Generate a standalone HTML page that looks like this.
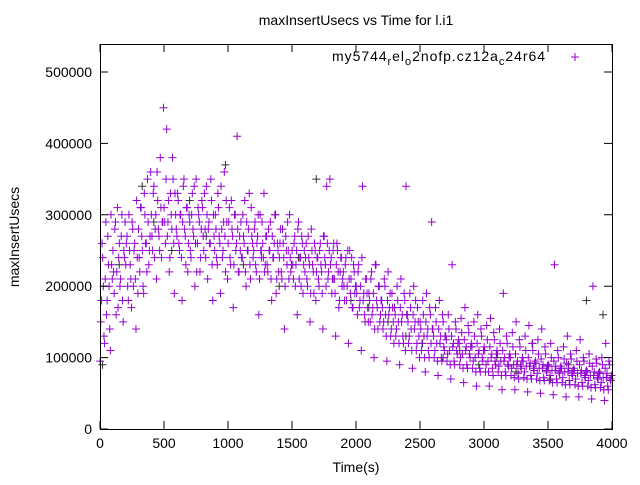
<!DOCTYPE html>
<html><head><meta charset="utf-8"><style>
body{margin:0;background:#fff}
svg text{font-family:"Liberation Sans",sans-serif;fill:#000}
</style></head><body>
<svg id="chart" width="640" height="480" viewBox="0 0 640 480" xmlns="http://www.w3.org/2000/svg">
<rect width="640" height="480" fill="#fff"/>
<text x="356" y="25" font-size="14" text-anchor="middle">maxInsertUsecs vs Time for l.i1</text>
<g id="marks"></g>
<rect x="100.5" y="44.5" width="512" height="385" fill="none" stroke="#000" stroke-width="1"/>
<g id="axes"></g>
<text x="356" y="472" font-size="14" text-anchor="middle">Time(s)</text>
<text transform="translate(19,237) rotate(-90)" font-size="14" text-anchor="middle">maxInsertUsecs</text>
<text x="332" y="61" font-size="14" textLength="213" lengthAdjust="spacing">my5744<tspan font-size="11" dy="4">r</tspan><tspan dy="-4">el</tspan><tspan font-size="11" dy="4">o</tspan><tspan dy="-4">2nofp.cz12a</tspan><tspan font-size="11" dy="4">c</tspan><tspan dy="-4">24r64</tspan></text>
<path d="M571 57h8M575 53v8" stroke="#9400d3" stroke-width="1"/>
</svg>
<script>
const yTicks=[0,100000,200000,300000,400000,500000];
const xTicks=[0,500,1000,1500,2000,2500,3000,3500,4000];
const timeStep=10;
const purpleK=[95,180,240,130,210,160,270,200,110,230,250,190,290,220,170,260,210,300,150,240,230,270,180,250,210,290,200,260,140,240,280,220,310,250,190,300,260,350,230,270,300,250,340,280,210,320,270,380,240,290,310,260,420,290,220,330,280,350,190,300,270,320,250,300,180,340,280,230,310,260,290,240,330,270,200,350,260,300,220,280,310,250,280,340,210,290,260,320,180,270,300,240,330,270,190,280,250,360,220,290,260,310,230,280,170,300,250,410,220,270,290,240,270,320,200,250,280,230,310,260,250,290,220,270,160,300,240,260,330,230,270,220,250,290,180,240,260,300,210,250,240,280,210,260,140,270,230,250,300,220,250,210,270,230,160,290,240,200,260,230,220,260,200,240,150,280,230,190,250,220,240,200,260,220,140,270,230,340,210,250,230,190,250,210,130,260,220,180,240,200,220,180,240,200,120,250,210,170,230,190,200,160,230,180,110,340,190,150,210,170,190,150,220,170,100,230,180,140,200,160,180,140,210,160,95,220,170,130,190,150,170,130,200,150,90,210,160,120,180,340,160,120,190,140,85,200,150,110,170,130,150,110,180,130,80,190,140,100,160,290,140,100,170,120,75,180,130,95,150,110,130,95,160,110,70,230,120,90,140,105,125,90,155,105,65,170,115,85,135,100,120,85,150,100,60,160,110,80,130,95,115,80,145,95,60,155,105,75,125,90,110,80,140,95,55,190,100,75,120,88,105,75,135,90,55,150,95,70,115,85,100,72,130,88,52,145,92,70,110,82,95,70,125,85,50,140,90,68,105,80,90,68,120,82,48,230,88,65,100,78,88,65,115,80,45,130,85,62,98,75,85,62,110,78,45,125,82,60,95,72,82,60,105,75,42,200,80,58,92,70,80,58,100,72,40,120,78,55,90,68];
const purple2K=[150,260,200,120,290,180,230,140,300,210,220,280,160,310,240,200,270,180,250,290,260,200,300,230,170,280,250,210,320,190,240,310,270,200,330,260,220,290,250,360,270,330,240,300,360,280,250,310,290,450,290,350,270,320,240,300,380,260,330,280,330,260,300,240,290,350,270,310,220,300,250,300,280,340,260,220,310,290,240,320,270,330,240,300,280,260,350,230,300,250,280,230,310,260,340,240,290,270,320,210,290,240,320,270,230,300,260,280,220,250,240,300,260,220,290,250,330,210,270,240,280,230,260,300,210,250,290,240,220,270,230,280,250,210,270,240,300,190,260,220,260,220,280,240,200,250,290,210,240,230,230,260,200,250,280,210,240,270,190,250,240,210,270,230,190,250,220,260,180,240,210,250,230,190,270,240,200,260,220,350,240,210,260,190,230,250,170,220,240,210,200,230,180,250,210,190,240,170,220,200,190,220,170,200,240,180,160,210,190,150,180,210,160,190,140,230,170,200,150,180,170,150,200,130,180,160,190,140,170,120,160,140,180,120,170,150,130,190,110,160,150,130,170,110,160,140,180,120,150,100,140,120,160,100,150,130,110,170,120,140,130,110,150,95,140,120,100,160,115,130,125,105,140,90,130,115,95,150,110,120,120,100,135,85,125,110,90,145,105,115,115,95,130,80,120,105,85,140,100,110,110,90,125,80,115,100,85,135,95,105,105,88,120,75,110,95,80,130,90,100,100,85,115,72,105,90,78,125,88,95,95,80,110,70,100,88,75,120,85,92,92,78,105,68,98,85,72,115,82,88,88,75,100,65,95,82,70,110,80,85,85,72,98,62,92,80,68,105,78,82,82,70,95,60,90,78,65,100,75,80,80,68,92,58,88,75,62,98,72,78,78,65,90,55,85,72,60,95,70,75];
const blackTimes=[20,150,330,420,560,700,830,980,1120,1260,1400,1550,1690,1820,1960,2100,2250,2390,2520,2680,2810,2960,3100,3250,3380,3520,3660,3800,3930];
const blackK=[90,230,340,290,250,320,270,370,230,250,200,240,350,210,180,170,150,130,120,100,110,90,100,80,120,70,90,180,160];
const X=v=>100+v/4000*512;
const Y=v=>429-v/500000*357;
const NS="http://www.w3.org/2000/svg";
const marks=document.getElementById('marks');
function plus(x,y,c){
  const p=document.createElementNS(NS,'path');
  p.setAttribute('d',`M${x-4} ${y}h8M${x} ${y-4}v8`);
  p.setAttribute('stroke',c);p.setAttribute('stroke-width','1');
  
  
  marks.appendChild(p);
}
blackTimes.forEach((t,i)=>plus(X(t),Y(blackK[i]*1000),'#333'));
purpleK.forEach((v,i)=>plus(X(i*timeStep+1),Y(v*1000),'#9400d3'));
purple2K.forEach((v,i)=>plus(X(i*timeStep+6),Y(v*1000),'#9400d3'));
const axes=document.getElementById('axes');
yTicks.forEach(v=>{
  const y=Y(v);
  const l=document.createElementNS(NS,'path');
  l.setAttribute('d',`M100 ${y}h8M612 ${y}h-8`);l.setAttribute('stroke','#000');
  
  
  axes.appendChild(l);
  const t=document.createElementNS(NS,'text');
  t.setAttribute('x',92);t.setAttribute('y',y+5);t.setAttribute('font-size','14');t.setAttribute('text-anchor','end');
  t.textContent=v;
  
  
  axes.appendChild(t);
});
xTicks.forEach(v=>{
  const x=X(v);
  const l=document.createElementNS(NS,'path');
  l.setAttribute('d',`M${x} 429v-8M${x} 44v8`);l.setAttribute('stroke','#000');
  
  
  axes.appendChild(l);
  const t=document.createElementNS(NS,'text');
  t.setAttribute('x',x);t.setAttribute('y',448);t.setAttribute('font-size','14');t.setAttribute('text-anchor','middle');
  t.textContent=v;
  
  
  axes.appendChild(t);
});
</script>
</body></html>
